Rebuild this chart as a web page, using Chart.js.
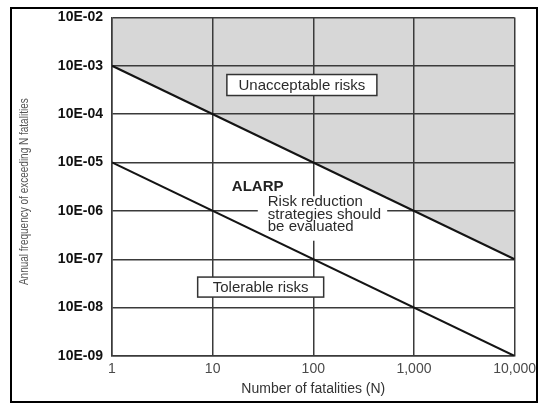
<!DOCTYPE html>
<html>
<head>
<meta charset="utf-8">
<script src="https://cdn.jsdelivr.net/npm/chart.js@4.4.1/dist/chart.umd.min.js"></script>
<style>
  html, body { margin: 0; padding: 0; background: #fff; }
  canvas { display: block; }
</style>
</head>
<body>
<canvas id="fnChart" width="541" height="405"></canvas>
<script>
// F-N criterion lines, both axes logarithmic
const fatalities = [1, 10000];
const upperLimit = [1e-3, 1e-7];   // above: unacceptable
const lowerLimit = [1e-5, 1e-9];   // below: tolerable

const xTickValues = [1, 10, 100, 1000, 10000];
const xTickLabels = ["1", "10", "100", "1,000", "10,000"];
const yTickValues = [1e-9, 1e-8, 1e-7, 1e-6, 1e-5, 1e-4, 1e-3, 1e-2];
const yTickLabels = ["10E-09", "10E-08", "10E-07", "10E-06", "10E-05", "10E-04", "10E-03", "10E-02"];
const yTitle = "Annual frequency of exceeding N fatalities";

const sans = "'Liberation Sans', Arial, Helvetica, sans-serif";
const gridColor = "#3a3a3a";
const lineColor = "#141414";
const shadeColor = "#d7d7d7";

// region notes, placed in data units (x = N, y = frequency)
const boxNotes = [
    { text: "Unacceptable risks", x: 77, y: 4.0e-4, width: 150, height: 21 },
    { text: "Tolerable risks", x: 30, y: 2.66e-8, width: 126, height: 20 }
];
const alarpNote = { title: "ALARP", tx: 15.5, ty: 3.1e-6,
    lines: ["Risk reduction", "strategies should", "be evaluated"], x: 35.3, y: 1.51e-6 };

function toPoints(ys) {
    return fatalities.map((n, i) => ({ x: n, y: ys[i] }));
}

const notesPlugin = {
    id: "notes",
    beforeDatasetsDraw(chart) {
        // blank the grid behind the ALARP explanation
        const ctx = chart.ctx;
        const sx = chart.scales.x, sy = chart.scales.y;
        const left = sx.getPixelForValue(alarpNote.x);
        const top = sy.getPixelForValue(alarpNote.y);
        ctx.save();
        ctx.font = "15px " + sans;
        const w = Math.max(...alarpNote.lines.map(l => ctx.measureText(l).width));
        ctx.fillStyle = "#fff";
        ctx.fillRect(left - 10, top - 6, w + 16, alarpNote.lines.length * 12.5 + 7);
        ctx.restore();
    },
    afterDatasetsDraw(chart) {
        const ctx = chart.ctx;
        const sx = chart.scales.x, sy = chart.scales.y;
        ctx.save();
        ctx.font = "15px " + sans;
        ctx.textBaseline = "middle";
        boxNotes.forEach(b => {
            const cx = sx.getPixelForValue(b.x);
            const cy = sy.getPixelForValue(b.y);
            ctx.fillStyle = "#fff";
            ctx.fillRect(cx - b.width / 2, cy - b.height / 2, b.width, b.height);
            ctx.strokeStyle = "#333";
            ctx.lineWidth = 1.5;
            ctx.strokeRect(cx - b.width / 2, cy - b.height / 2, b.width, b.height);
            ctx.fillStyle = "#2b2b2b";
            ctx.textAlign = "center";
            ctx.fillText(b.text, cx, cy + 1);
        });

        ctx.textAlign = "left";
        ctx.fillStyle = "#222";
        ctx.font = "bold 15px " + sans;
        ctx.fillText(alarpNote.title, sx.getPixelForValue(alarpNote.tx), sy.getPixelForValue(alarpNote.ty));
        ctx.font = "15px " + sans;
        ctx.fillStyle = "#2b2b2b";
        const lx = sx.getPixelForValue(alarpNote.x);
        const ly = sy.getPixelForValue(alarpNote.y);
        alarpNote.lines.forEach((l, i) => ctx.fillText(l, lx, ly + i * 12.5));
        ctx.restore();
    },
    afterDraw(chart) {
        const ctx = chart.ctx;
        const area = chart.chartArea;
        ctx.save();
        // condensed, rotated y-axis title
        ctx.translate(25, (area.top + area.bottom) / 2 + 5);
        ctx.rotate(-Math.PI / 2);
        ctx.scale(0.8, 1);
        ctx.font = "12.5px " + sans;
        ctx.fillStyle = "#555";
        ctx.textAlign = "center";
        ctx.textBaseline = "middle";
        ctx.fillText(yTitle, 0, 0);
        ctx.restore();

        // outer frame
        ctx.save();
        ctx.strokeStyle = "#000";
        ctx.lineWidth = 2;
        ctx.strokeRect(11, 8, 526, 394);
        ctx.restore();
    }
};

new Chart(document.getElementById("fnChart"), {
    type: "line",
    data: {
        datasets: [
            {
                data: toPoints(upperLimit),
                borderColor: lineColor,
                borderWidth: 2,
                pointRadius: 0,
                fill: "end",
                backgroundColor: shadeColor
            },
            {
                data: toPoints(lowerLimit),
                borderColor: lineColor,
                borderWidth: 2,
                pointRadius: 0,
                fill: false
            }
        ]
    },
    options: {
        responsive: false,
        animation: false,
        events: [],
        devicePixelRatio: 1,
        layout: { padding: { left: 0, right: 26, top: 17, bottom: 0 } },
        plugins: {
            legend: { display: false },
            tooltip: { enabled: false },
            filler: { drawTime: "beforeDraw" }
        },
        scales: {
            x: {
                type: "logarithmic",
                min: 1,
                max: 10000,
                afterBuildTicks: s => { s.ticks = xTickValues.map(v => ({ value: v })); },
                afterFit: s => { s.height = 49; },
                grid: { color: gridColor, lineWidth: 1.5, drawTicks: false },
                border: { color: gridColor, width: 1.5 },
                ticks: {
                    callback: (v, i) => xTickLabels[i],
                    autoSkip: false,
                    maxRotation: 0,
                    padding: 5,
                    color: "#4a4a4a",
                    font: { family: sans, size: 14 }
                },
                title: {
                    display: true,
                    text: "Number of fatalities (N)",
                    color: "#333",
                    font: { family: sans, size: 14 },
                    padding: { top: 0, bottom: 7 }
                }
            },
            y: {
                type: "logarithmic",
                min: 1e-9,
                max: 1e-2,
                afterBuildTicks: s => { s.ticks = yTickValues.map(v => ({ value: v })); },
                afterFit: s => { s.width = 112; },
                grid: { color: gridColor, lineWidth: 1.5, drawTicks: false },
                border: { color: gridColor, width: 1.5 },
                ticks: {
                    callback: (v, i) => yTickLabels[i],
                    autoSkip: false,
                    padding: 9,
                    color: "#111",
                    font: { family: sans, size: 14, weight: "bold" }
                }
            }
        }
    },
    plugins: [notesPlugin]
});
</script>
</body>
</html>
